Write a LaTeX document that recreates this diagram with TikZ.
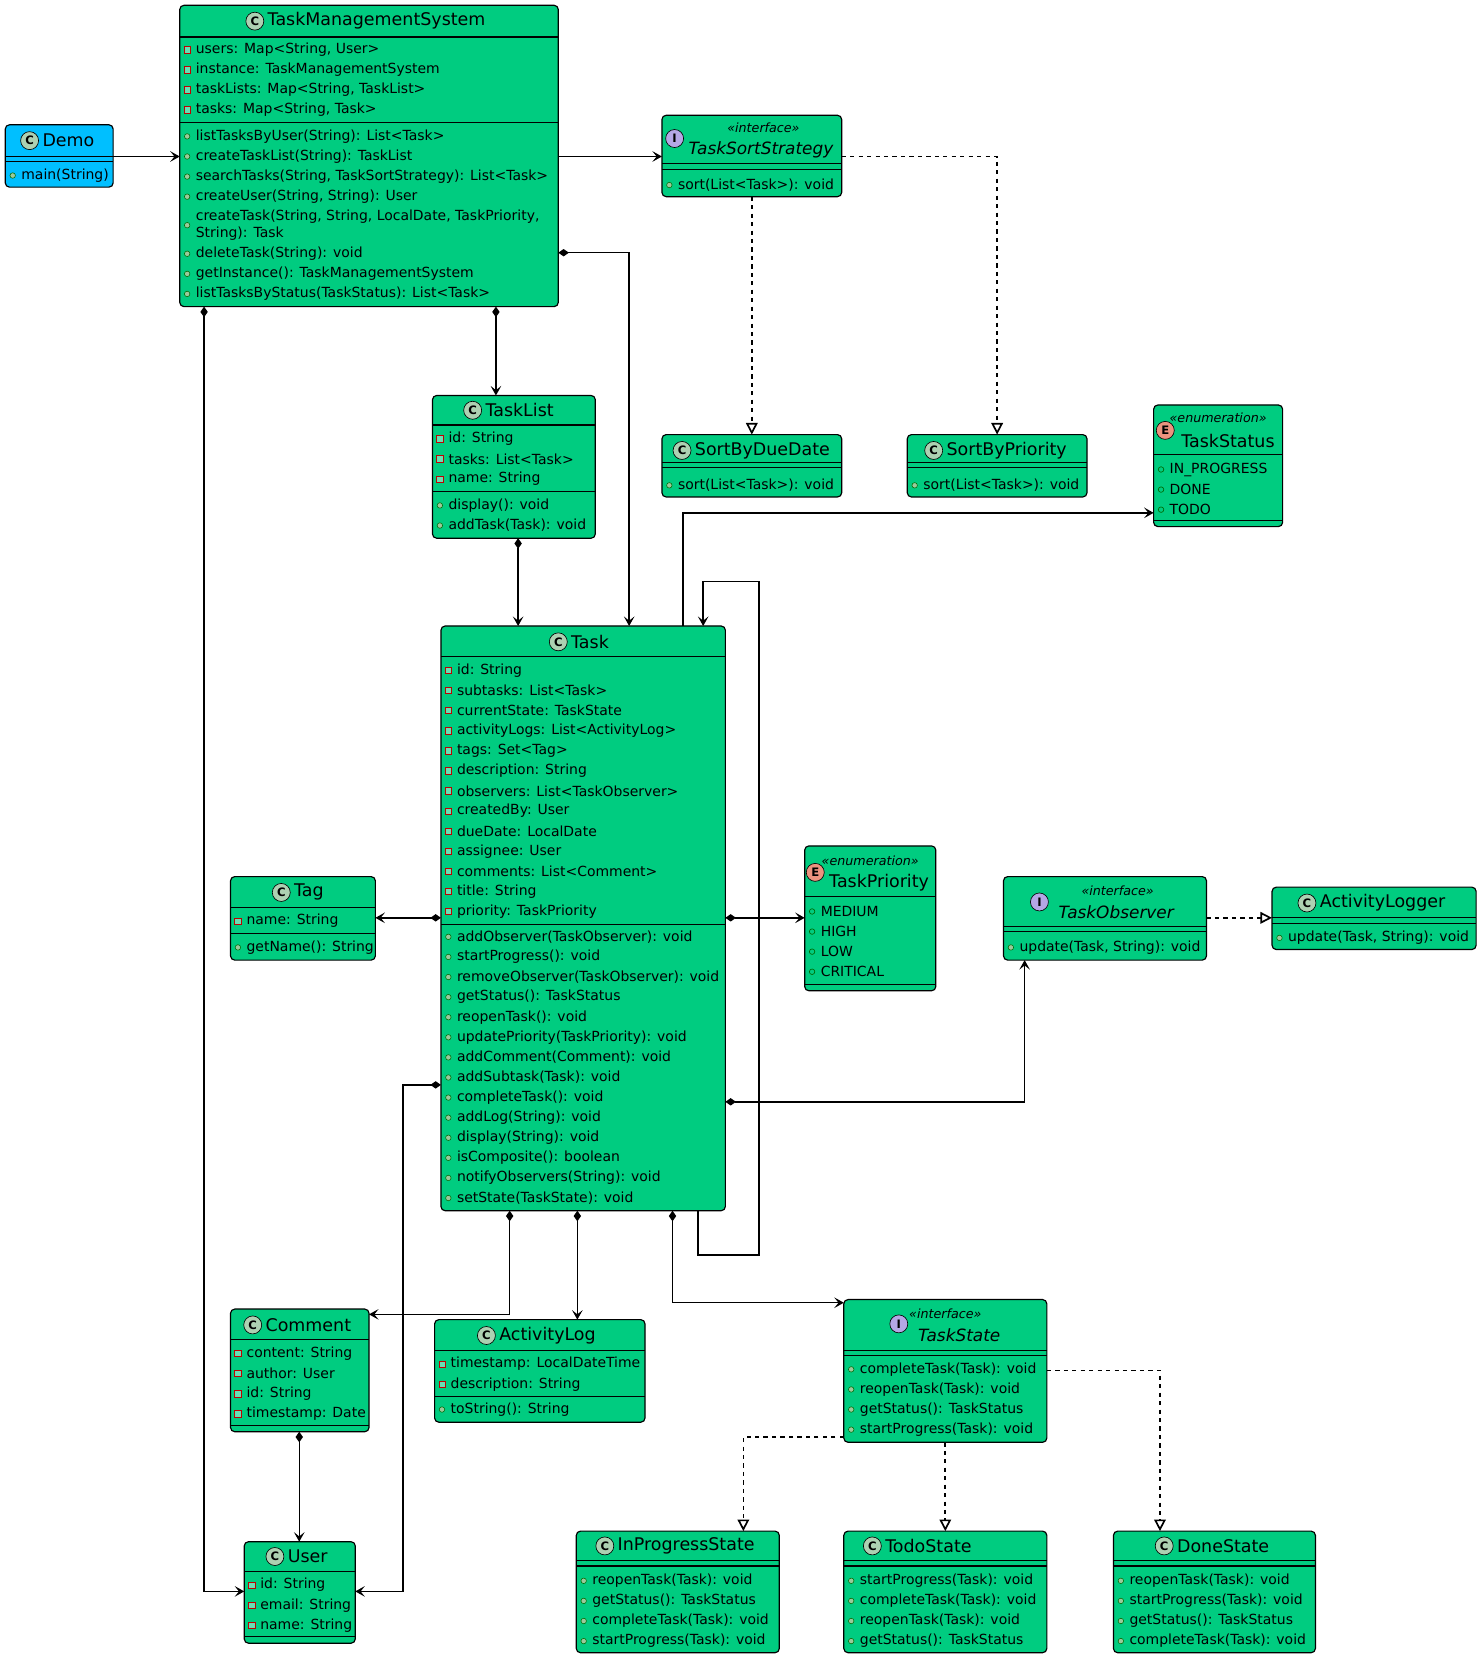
\documentclass[tikz,border=0pt]{standalone}
\usepackage{fontspec}
\setmainfont{DejaVu Sans}
\usetikzlibrary{arrows.meta,calc}
\definecolor{cg}{HTML}{00CC80}
\definecolor{cb}{HTML}{00BFFF}
\definecolor{icC}{HTML}{ADD1B2}
\definecolor{icI}{HTML}{B4A7E5}
\definecolor{icE}{HTML}{EB937F}
\tikzset{
 box/.style={draw, line width=1.1pt, rounded corners=4pt, anchor=north west, inner sep=0pt, outer sep=0pt},
 it/.style={anchor=west, inner sep=0pt, font=\fontsize{13.2}{15}\selectfont},
 ttl/.style={anchor=west, inner sep=0pt, font=\fontsize{16.5}{19}\selectfont},
 ttli/.style={ttl, font=\itshape\fontsize{16}{19}\selectfont},
 ster/.style={inner sep=0pt, font=\itshape\fontsize{12}{14}\selectfont},
 ico/.style={circle, draw, line width=0.6pt, minimum size=17pt, inner sep=0pt, font=\bfseries\fontsize{11}{11}\selectfont},
 assoc/.style={line width=1.4pt, -{Stealth[length=9pt,width=10pt,inset=4pt]}},
 comp/.style={line width=1.4pt, {Diamond[length=10pt,width=7pt]}-{Stealth[length=9pt,width=10pt,inset=4pt]}},
 real/.style={line width=1.6pt, dash pattern=on 4pt off 4pt, -{Triangle[open,length=11pt,width=11pt,fill=white]}},
}
\newcommand\ubox[6]{\node[box, fill=#6, minimum width=#4pt, minimum height=#5pt] (#1) at (#2,#3) {};}
\newcommand\hl[3]{\draw[line width=1.1pt] (#1,#3) -- ++(#2,0);}
\newcommand\dl[3]{\draw[line width=1.1pt] (#1,#3) -- ++(#2,0) (#1,#3+5) -- ++(#2,0);}
\newcommand\icon[4]{\node[ico, fill=#3] at (#1,#2) {#4};}
\newcommand\mkv[2]{\draw[line width=0.6pt, draw=red!75!black, fill=cg!60!white] (#1-3,#2-3) rectangle (#1+3,#2+3);}
\newcommand\mkb[2]{\draw[line width=0.5pt, draw=green!40!black, fill=green!30!gray!60!white] (#1,#2) circle (2.6pt);}
\newcommand\mke[2]{\draw[line width=0.6pt, draw=green!40!black] (#1,#2) circle (2.6pt);}
\newcommand\items[4]{\foreach \t [count=\i from 0] in {#4} {
   \pgfmathsetmacro\yy{#3+19*\i}
   \csname mk#1\endcsname{#2+7}{\yy}
   \node[it] at (#2+15,\yy) {\t};}}
\begin{document}
\begin{tikzpicture}[x=1pt,y=-1pt]
\useasboundingbox (0,0) rectangle (1400,1568);
% Demo
\ubox{demo}{5}{118}{102}{59}{cb}
\icon{28}{133}{icC}{C}\node[ttl] at (40,133) {Demo};
\dl{5}{102}{148}
\items{b}{5}{166}{{main(String)}}
% TMS
\ubox{tms}{170}{5}{358}{285}{cg}
\icon{241}{20}{icC}{C}\node[ttl] at (253,20) {TaskManagementSystem};
\hl{170}{358}{35}
\items{v}{170}{47}{{users: Map<String, User>},{instance: TaskManagementSystem},{taskLists: Map<String, TaskList>},{tasks: Map<String, Task>}}
\hl{170}{358}{116}
\items{b}{170}{129}{{listTasksByUser(String): List<Task>},{createTaskList(String): TaskList},{searchTasks(String, TaskSortStrategy): List<Task>},{createUser(String, String): User}}
\mkb{177}{213}\node[it] at (185,205) {createTask(String, String, LocalDate, TaskPriority,};\node[it] at (185,221) {String): Task};
\items{b}{170}{240}{{deleteTask(String): void},{getInstance(): TaskManagementSystem},{listTasksByStatus(TaskStatus): List<Task>}}
% TaskSortStrategy
\ubox{tss}{626}{109}{170}{77}{cg}
\icon{638}{131}{icI}{I}\node[ster] at (722,121) {«interface»};\node[ttli] at (651,142) {TaskSortStrategy};
\dl{626}{170}{155}
\items{b}{626}{175}{{sort(List<Task>): void}}
% SortByDueDate
\ubox{sbd}{626}{411}{170}{59}{cg}
\icon{645}{426}{icC}{C}\node[ttl] at (657,426) {SortByDueDate};
\dl{626}{170}{437}
\items{b}{626}{459}{{sort(List<Task>): void}}
% SortByPriority
\ubox{sbp}{858}{411}{170}{59}{cg}
\icon{883}{426}{icC}{C}\node[ttl] at (895,426) {SortByPriority};
\dl{858}{170}{437}
\items{b}{858}{459}{{sort(List<Task>): void}}
% TaskStatus
\ubox{ts}{1091}{383}{122}{115}{cg}
\icon{1102}{407}{icE}{E}\node[ster] at (1152,395) {«enumeration»};\node[ttl] at (1117,417) {TaskStatus};
\hl{1091}{122}{430}
\items{e}{1091}{444}{{IN\_PROGRESS},{DONE},{TODO}}
\hl{1091}{122}{492}
% TaskList
\ubox{tl}{409}{374}{154}{135}{cg}
\icon{447}{388}{icC}{C}\node[ttl] at (459,388) {TaskList};
\hl{409}{154}{402}
\items{v}{409}{415}{{id: String},{tasks: List<Task>},{name: String}}
\hl{409}{154}{465}
\items{b}{409}{478}{{display(): void},{addTask(Task): void}}
% Task
\ubox{task}{417}{592}{269}{553}{cg}
\icon{528}{607}{icC}{C}\node[ttl] at (540,607) {Task};
\hl{417}{269}{621}
\items{v}{417}{634}{{id: String},{subtasks: List<Task>},{currentState: TaskState},{activityLogs: List<ActivityLog>},{tags: Set<Tag>},{description: String},{observers: List<TaskObserver>},{createdBy: User},{dueDate: LocalDate},{assignee: User},{comments: List<Comment>},{title: String},{priority: TaskPriority}}
\hl{417}{269}{874}
\items{b}{417}{886}{{addObserver(TaskObserver): void},{startProgress(): void},{removeObserver(TaskObserver): void},{getStatus(): TaskStatus},{reopenTask(): void},{updatePriority(TaskPriority): void},{addComment(Comment): void},{addSubtask(Task): void},{completeTask(): void},{addLog(String): void},{display(String): void},{isComposite(): boolean},{notifyObservers(String): void},{setState(TaskState): void}}
% Tag
\ubox{tag}{218}{829}{137}{79}{cg}
\icon{266}{844}{icC}{C}\node[ttl] at (278,844) {Tag};
\hl{218}{137}{858}
\items{v}{218}{871}{{name: String}}
\hl{218}{137}{883}
\items{b}{218}{896}{{getName(): String}}
% TaskPriority
\ubox{tp}{761}{800}{124}{137}{cg}
\icon{771}{825}{icE}{E}\node[ster] at (823,814) {«enumeration»};\node[ttl] at (784,835) {TaskPriority};
\hl{761}{124}{848}
\items{e}{761}{862}{{MEDIUM},{HIGH},{LOW},{CRITICAL}}
\hl{761}{124}{931}
% TaskObserver
\ubox{tob}{949}{829}{192}{79}{cg}
\icon{983}{853}{icI}{I}\node[ster] at (1057,842) {«interface»};\node[ttli] at (1001,863) {TaskObserver};
\dl{949}{192}{876}
\items{b}{949}{896}{{update(Task, String): void}}
% ActivityLogger
\ubox{alg}{1203}{839}{193}{59}{cg}
\icon{1236}{854}{icC}{C}\node[ttl] at (1248,854) {ActivityLogger};
\dl{1203}{193}{868}
\items{b}{1203}{887}{{update(Task, String): void}}
% Comment
\ubox{cm}{218}{1238}{131}{116}{cg}
\icon{239}{1253}{icC}{C}\node[ttl] at (251,1253) {Comment};
\hl{218}{131}{1267}
\items{v}{218}{1280}{{content: String},{author: User},{id: String},{timestamp: Date}}
\hl{218}{131}{1348}
% ActivityLog
\ubox{al}{411}{1248}{199}{97}{cg}
\icon{460}{1263}{icC}{C}\node[ttl] at (472,1263) {ActivityLog};
\hl{411}{199}{1277}
\items{v}{411}{1290}{{timestamp: LocalDateTime},{description: String}}
\hl{411}{199}{1321}
\items{b}{411}{1333}{{toString(): String}}
% TaskState
\ubox{tst}{798}{1229}{192}{135}{cg}
\icon{850}{1252}{icI}{I}\node[ster] at (894,1242) {«interface»};\node[ttli] at (868,1263) {TaskState};
\dl{798}{192}{1277}
\items{b}{798}{1295}{{completeTask(Task): void},{reopenTask(Task): void},{getStatus(): TaskStatus},{startProgress(Task): void}}
% InProgressState
\ubox{ips}{545}{1448}{192}{115}{cg}
\icon{572}{1462}{icC}{C}\node[ttl] at (584,1462) {InProgressState};
\dl{545}{192}{1476}
\items{b}{545}{1495}{{reopenTask(Task): void},{getStatus(): TaskStatus},{completeTask(Task): void},{startProgress(Task): void}}
% TodoState
\ubox{tds}{798}{1448}{192}{115}{cg}
\icon{825}{1462}{icC}{C}\node[ttl] at (837,1462) {TodoState};
\dl{798}{192}{1476}
\items{b}{798}{1495}{{startProgress(Task): void},{completeTask(Task): void},{reopenTask(Task): void},{getStatus(): TaskStatus}}
% DoneState
\ubox{ds}{1053}{1448}{191}{115}{cg}
\icon{1101}{1462}{icC}{C}\node[ttl] at (1113,1462) {DoneState};
\dl{1053}{191}{1476}
\items{b}{1053}{1495}{{reopenTask(Task): void},{startProgress(Task): void},{getStatus(): TaskStatus},{completeTask(Task): void}}
% User
\ubox{user}{231}{1458}{105}{96}{cg}
\icon{260}{1472}{icC}{C}\node[ttl] at (272,1472) {User};
\hl{231}{105}{1486}
\items{v}{231}{1499}{{id: String},{email: String},{name: String}}
\hl{231}{105}{1548}
% connectors
\draw[assoc] (demo.east |- 0,148) -- (tms.west |- 0,148);
\draw[assoc] (tms.east |- 0,148) -- (tss.west |- 0,148);
\draw[real] (711,0 |- tss.south) -- (711,0 |- sbd.north);
\draw[real] (tss.east |- 0,148) -| (943,0 |- sbp.north);
\draw[comp] (469,0 |- tms.south) -- (469,0 |- tl.north);
\draw[comp] (tms.east |- 0,239) -| (595,0 |- task.north);
\draw[comp] (193,0 |- tms.south) |- (user.west |- 0,1505);
\draw[comp] (490,0 |- tl.south) -- (490,0 |- task.north);
\draw[assoc] (646,0 |- task.north) |- (ts.west |- 0,485);
\draw[assoc] (660,0 |- task.south) -- (660,1187) -- (718,1187) -- (718,550) -- (665,550) -- (665,0 |- task.north);
\draw[comp] (task.west |- 0,868) -- (tag.east |- 0,868);
\draw[comp] (task.east |- 0,868) -- (tp.west |- 0,868);
\draw[comp] (task.east |- 0,1042) -| (969,0 |- tob.south);
\draw[real] (tob.east |- 0,868) -- (alg.west |- 0,868);
\draw[comp] (task.west |- 0,1026) -- (381,1026) |- (user.east |- 0,1505);
\draw[comp] (482,0 |- task.south) |- (cm.east |- 0,1243);
\draw[comp] (546,0 |- task.south) -- (546,0 |- al.north);
\draw[comp] (636,0 |- task.south) |- (tst.west |- 0,1232);
\draw[comp] (283,0 |- cm.south) -- (283,0 |- user.north);
\draw[real] (tst.west |- 0,1359) -| (703,0 |- ips.north);
\draw[real] (894,0 |- tst.south) -- (894,0 |- tds.north);
\draw[real] (tst.east |- 0,1296) -| (1097,0 |- ds.north);
\end{tikzpicture}
\end{document}
